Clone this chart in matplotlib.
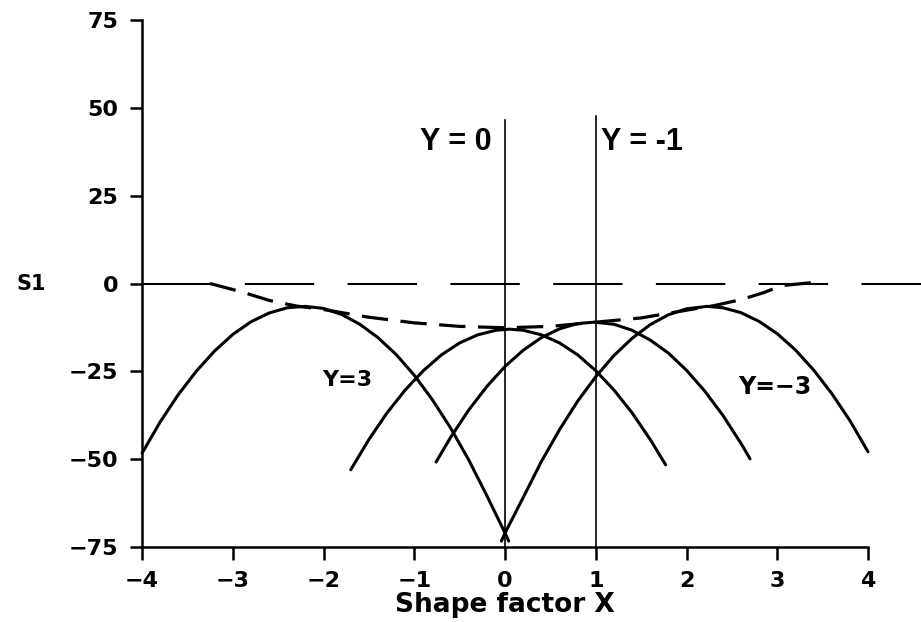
import matplotlib
matplotlib.use("Agg")
import matplotlib.pyplot as plt
from matplotlib import font_manager

# S1 curves, one list per Y value
x_y3 = [-4.0, -3.8, -3.6, -3.4, -3.2, -3.0, -2.8, -2.6, -2.4, -2.2, -2.0, -1.8, -1.6,
        -1.4, -1.2, -1.0, -0.8, -0.6, -0.4, -0.2, 0.0, 0.04]
s1_y3 = [-48.3, -39.4, -31.6, -24.9, -19.2, -14.5, -10.9, -8.4, -6.9, -6.5, -7.1, -8.8, -11.6,
         -15.4, -20.2, -26.1, -33.1, -41.1, -50.2, -60.4, -71.0, -73.3]

x_y0 = [-1.7, -1.5, -1.3, -1.1, -0.9, -0.7, -0.5, -0.3, -0.1, 0.05, 0.2, 0.4, 0.6,
        0.8, 1.0, 1.2, 1.4, 1.6, 1.77]
s1_y0 = [-53.0, -44.4, -36.8, -30.3, -24.8, -20.3, -16.9, -14.6, -13.3, -13.0, -13.3, -14.6, -16.9,
         -20.3, -24.8, -30.3, -36.8, -44.4, -51.6]

x_ym1 = [-0.76, -0.6, -0.4, -0.2, 0.0, 0.2, 0.4, 0.6, 0.8, 0.98, 1.2, 1.4, 1.6,
         1.8, 2.0, 2.2, 2.4, 2.6, 2.7]
s1_ym1 = [-50.8, -43.8, -36.0, -29.3, -23.6, -19.0, -15.4, -12.9, -11.4, -11.0, -11.6, -13.3, -16.1,
          -19.8, -24.7, -30.6, -37.5, -45.5, -49.9]

x_ym3 = [-0.04, 0.0, 0.2, 0.4, 0.6, 0.8, 1.0, 1.2, 1.4, 1.6, 1.8, 2.0, 2.23, 2.4,
         2.6, 2.8, 3.0, 3.2, 3.4, 3.6, 3.8, 4.0]
s1_ym3 = [-73.3, -71.0, -60.9, -50.7, -41.6, -33.5, -26.5, -20.5, -15.6, -11.7, -8.9, -7.2, -6.5, -6.9,
          -8.3, -10.8, -14.3, -18.9, -24.6, -31.3, -39.0, -47.9]

# dashed envelope over the peaks
x_env = [-3.25, -2.9, -2.6, -2.3, -2.0, -1.5, -1.0, -0.5, 0.0, 0.5, 1.0, 1.5, 2.0, 2.3, 2.6, 2.85, 3.05, 3.4]
s1_env = [0.0, -2.4, -4.8, -6.4, -7.4, -9.6, -11.2, -12.2, -12.6, -12.2, -11.0, -9.8, -7.6, -6.3, -4.6, -2.6, -0.6, 0.3]

# long-dash zero line
x_zero = [-4.0, 4.58]
s1_zero = [0.0, 0.0]

# vertical markers
x_marks = [0, 1]
marks_top = [46.6, 47.7]
mark_labels = ["Y = 0", "Y = -1"]

x_ticks = [-4, -3, -2, -1, 0, 1, 2, 3, 4]
y_ticks = [-75, -50, -25, 0, 25, 50, 75]

plt.rcParams["lines.scale_dashes"] = False
plt.rcParams["font.family"] = "DejaVu Sans"

# the Y = 0 / Y = -1 labels were pasted in with an Arial-like bold face;
# pick the regular-width Liberation Sans Bold file, not the Narrow one
arial_bold = None
for f in font_manager.fontManager.ttflist:
    if f.name == "Liberation Sans" and f.weight in (700, "bold") and f.style == "normal" \
            and "narrow" not in f.fname.lower():
        arial_bold = font_manager.FontProperties(fname=f.fname, size=22)
        break
if arial_bold is None:
    arial_bold = font_manager.FontProperties(family="Roboto", weight="bold", size=22)

fig = plt.figure(figsize=(9.21, 6.22), dpi=100)
ax = fig.add_axes([0.1542, 0.1205, 0.7883, 0.8474])

ax.plot(x_zero, s1_zero, color="black", lw=1.5, dashes=[50, 24], clip_on=False)
ax.plot(x_env, s1_env, color="black", lw=2.3, dashes=[19, 9], clip_on=False)

for xs, ys in [(x_y3, s1_y3), (x_y0, s1_y0), (x_ym1, s1_ym1), (x_ym3, s1_ym3)]:
    ax.plot(xs, ys, color="black", lw=2.2, solid_capstyle="round", solid_joinstyle="round", clip_on=False)

for xm, top in zip(x_marks, marks_top):
    ax.plot([xm, xm], [-75, top], color="black", lw=1.2, clip_on=False)

ax.text(x_marks[0] - 0.15, 38, mark_labels[0], ha="right", va="baseline", fontproperties=arial_bold)
ax.text(x_marks[1] + 0.06, 38, mark_labels[1], ha="left", va="baseline", fontproperties=arial_bold)

ax.text(-2.02, -27.6, "Y=3", ha="left", va="center", weight="bold", fontsize=16)
ax.text(2.57, -29.5, "Y=\u22123", ha="left", va="center", weight="bold", fontsize=17)
ax.text(-5.38, 0, "S1", ha="left", va="center", weight="bold", fontsize=15)

ax.set_xlim(-4, 4)
ax.set_ylim(-75, 75)
ax.set_xticks(x_ticks)
ax.set_yticks(y_ticks)
ax.spines["top"].set_visible(False)
ax.spines["right"].set_visible(False)
ax.spines["left"].set_linewidth(1.8)
ax.spines["bottom"].set_linewidth(1.8)
ax.tick_params(direction="out", length=9, width=1.8, pad=8, labelsize=16)
for lab in ax.get_xticklabels() + ax.get_yticklabels():
    lab.set_fontweight("bold")

ax.set_xlabel("Shape factor X", fontsize=19, weight="bold", labelpad=1)

fig.savefig("out.png", dpi=100)
